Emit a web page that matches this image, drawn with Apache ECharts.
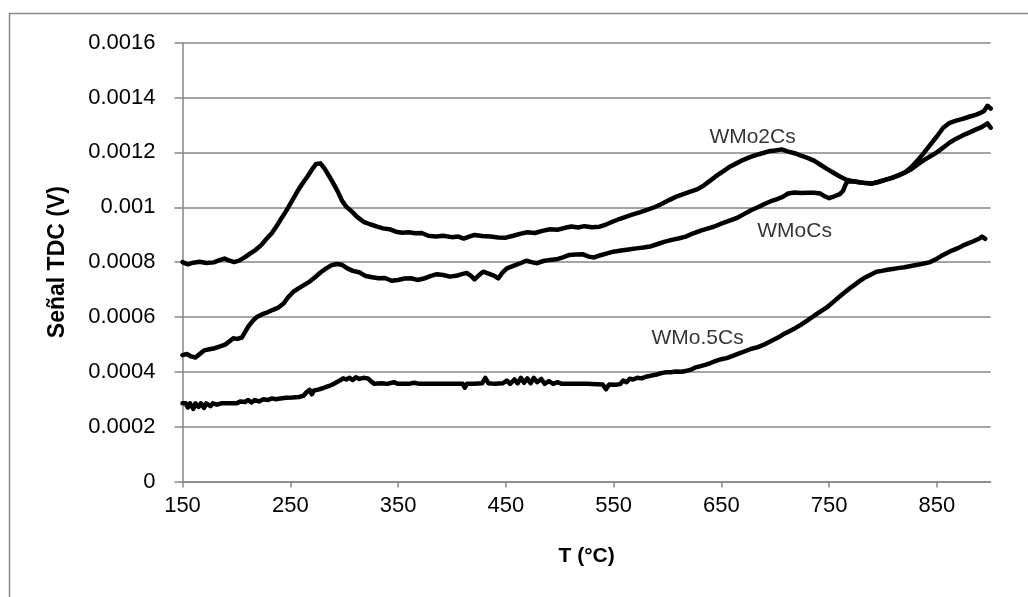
<!DOCTYPE html>
<html>
<head>
<meta charset="utf-8">
<script src="https://cdn.jsdelivr.net/npm/echarts@6/dist/echarts.min.js"></script>
<style>html,body{margin:0;padding:0;background:#fff;}#c{width:1028px;height:597px;}</style>
</head>
<body>
<div id="c"></div>
<script>
const xTicks = [150, 250, 350, 450, 550, 650, 750, 850];
const yTicks = [0, 0.0002, 0.0004, 0.0006, 0.0008, 0.001, 0.0012, 0.0014, 0.0016];
const xTitle = 'T (°C)';
const yTitle = 'Señal TDC (V)';

const wmo2cs = [[150,0.000800],[155,0.000792],[160,0.000798],[166,0.000801],[172,0.000797],[179,0.000799],[185,0.000808],[189,0.000813],[193,0.000806],[198,0.000800],[203,0.000806],[208,0.000818],[213,0.000832],[218,0.000845],[223,0.000862],[228,0.000885],[233,0.000906],[238,0.000935],[242,0.000961],[246,0.000985],[250,0.001012],[254,0.001040],[258,0.001067],[262,0.001090],[266,0.001112],[270,0.001137],[274,0.001158],[278,0.001160],[282,0.001140],[286,0.001114],[290,0.001087],[294,0.001058],[298,0.001024],[302,0.001002],[307,0.000985],[312,0.000965],[318,0.000947],[324,0.000938],[330,0.000930],[336,0.000923],[342,0.000920],[348,0.000911],[354,0.000907],[360,0.000909],[366,0.000905],[372,0.000906],[378,0.000896],[385,0.000893],[392,0.000896],[400,0.000891],[406,0.000893],[411,0.000886],[416,0.000893],[421,0.000899],[428,0.000895],[436,0.000893],[443,0.000890],[450,0.000889],[457,0.000896],[463,0.000903],[470,0.000909],[477,0.000906],[484,0.000914],[491,0.000920],[498,0.000918],[505,0.000925],[511,0.000930],[517,0.000926],[523,0.000931],[530,0.000927],[537,0.000929],[543,0.000937],[549,0.000947],[556,0.000958],[562,0.000966],[568,0.000974],[575,0.000982],[581,0.000990],[588,0.001000],[595,0.001013],[602,0.001027],[609,0.001040],[616,0.001050],[622,0.001058],[628,0.001066],[634,0.001080],[640,0.001098],[646,0.001116],[652,0.001132],[658,0.001148],[664,0.001160],[670,0.001172],[676,0.001182],[682,0.001190],[688,0.001197],[694,0.001204],[700,0.001207],[706,0.001211],[712,0.001203],[718,0.001197],[724,0.001188],[730,0.001180],[736,0.001170],[742,0.001155],[748,0.001140],[754,0.001126],[760,0.001112],[766,0.001100],[772,0.001095],[778,0.001091],[784,0.001088],[790,0.001086],[796,0.001092],[802,0.001100],[808,0.001106],[814,0.001115],[820,0.001126],[826,0.001145],[832,0.001170],[838,0.001198],[844,0.001228],[850,0.001258],[856,0.001290],[862,0.001308],[868,0.001316],[874,0.001322],[880,0.001330],[886,0.001337],[890,0.001343],[894,0.001352],[897,0.001370],[900,0.001360]];

const wmocs = [[150,0.000461],[154,0.000465],[158,0.000456],[162,0.000452],[166,0.000465],[170,0.000478],[175,0.000482],[180,0.000486],[185,0.000493],[190,0.000500],[194,0.000512],[197,0.000522],[201,0.000520],[205,0.000525],[208,0.000545],[211,0.000565],[215,0.000585],[219,0.000600],[224,0.000610],[229,0.000617],[234,0.000626],[239,0.000634],[244,0.000650],[248,0.000672],[253,0.000692],[258,0.000705],[263,0.000717],[268,0.000729],[273,0.000745],[278,0.000762],[283,0.000776],[288,0.000788],[293,0.000793],[298,0.000790],[303,0.000777],[308,0.000768],[314,0.000763],[320,0.000749],[326,0.000745],[332,0.000741],[338,0.000742],[344,0.000732],[350,0.000735],[356,0.000740],[362,0.000741],[368,0.000735],[374,0.000740],[380,0.000749],[386,0.000756],[392,0.000753],[398,0.000747],[404,0.000750],[410,0.000757],[414,0.000760],[418,0.000749],[421,0.000737],[425,0.000752],[429,0.000765],[434,0.000758],[439,0.000751],[443,0.000741],[447,0.000762],[451,0.000777],[457,0.000786],[463,0.000795],[469,0.000805],[474,0.000800],[479,0.000796],[485,0.000804],[491,0.000808],[497,0.000810],[503,0.000817],[509,0.000826],[515,0.000828],[521,0.000829],[527,0.000820],[532,0.000817],[538,0.000825],[544,0.000832],[550,0.000838],[557,0.000842],[564,0.000846],[571,0.000850],[578,0.000853],[585,0.000858],[591,0.000866],[597,0.000874],[603,0.000880],[610,0.000886],[617,0.000893],[624,0.000905],[631,0.000915],[637,0.000922],[643,0.000929],[650,0.000940],[657,0.000950],[664,0.000960],[671,0.000975],[678,0.000990],[684,0.001000],[690,0.001012],[696,0.001022],[702,0.001030],[707,0.001038],[712,0.001050],[718,0.001054],[724,0.001052],[730,0.001053],[736,0.001053],[742,0.001050],[746,0.001040],[750,0.001033],[755,0.001040],[760,0.001048],[763,0.001060],[765,0.001080],[767,0.001094],[772,0.001095],[778,0.001091],[784,0.001088],[790,0.001087],[796,0.001093],[802,0.001100],[808,0.001107],[814,0.001116],[820,0.001126],[826,0.001138],[832,0.001155],[838,0.001172],[844,0.001186],[850,0.001200],[856,0.001218],[862,0.001236],[868,0.001250],[874,0.001262],[880,0.001272],[886,0.001283],[892,0.001293],[897,0.001306],[900,0.001290]];

const wmo05cs = [[150,0.000285],[153,0.000285],[155,0.000270],[157,0.000285],[160,0.000265],[162,0.000285],[165,0.000272],[167,0.000285],[170,0.000268],[172,0.000285],[176,0.000275],[178,0.000285],[182,0.000280],[186,0.000285],[191,0.000285],[196,0.000285],[200,0.000285],[204,0.000292],[208,0.000290],[211,0.000297],[214,0.000288],[217,0.000297],[221,0.000292],[225,0.000300],[229,0.000297],[233,0.000303],[237,0.000300],[241,0.000303],[246,0.000305],[252,0.000306],[258,0.000308],[262,0.000312],[265,0.000325],[268,0.000334],[270,0.000318],[272,0.000332],[276,0.000335],[280,0.000340],[284,0.000346],[287,0.000350],[290,0.000355],[293,0.000362],[296,0.000368],[299,0.000376],[302,0.000372],[305,0.000378],[308,0.000370],[311,0.000380],[314,0.000374],[318,0.000378],[322,0.000376],[325,0.000365],[328,0.000356],[335,0.000358],[340,0.000356],[346,0.000362],[350,0.000356],[360,0.000356],[365,0.000360],[370,0.000356],[380,0.000356],[390,0.000356],[400,0.000356],[410,0.000356],[412,0.000342],[414,0.000356],[420,0.000356],[428,0.000358],[431,0.000378],[434,0.000358],[440,0.000356],[447,0.000358],[451,0.000368],[454,0.000356],[458,0.000372],[461,0.000358],[464,0.000378],[467,0.000360],[470,0.000376],[473,0.000358],[476,0.000378],[479,0.000362],[483,0.000374],[486,0.000356],[490,0.000366],[494,0.000356],[498,0.000362],[502,0.000356],[508,0.000356],[515,0.000356],[525,0.000356],[535,0.000355],[540,0.000354],[543,0.000336],[546,0.000354],[552,0.000353],[556,0.000355],[559,0.000368],[562,0.000362],[565,0.000375],[568,0.000372],[572,0.000378],[576,0.000376],[580,0.000382],[585,0.000386],[590,0.000390],[594,0.000395],[598,0.000398],[603,0.000398],[608,0.000401],[613,0.000400],[618,0.000404],[622,0.000408],[626,0.000416],[630,0.000420],[635,0.000425],[640,0.000432],[645,0.000440],[650,0.000446],[655,0.000450],[660,0.000457],[666,0.000466],[672,0.000475],[678,0.000484],[684,0.000490],[689,0.000498],[694,0.000508],[699,0.000518],[704,0.000528],[709,0.000540],[714,0.000550],[719,0.000560],[724,0.000572],[729,0.000585],[734,0.000598],[739,0.000612],[744,0.000625],[749,0.000638],[754,0.000655],[759,0.000672],[764,0.000688],[769,0.000704],[774,0.000718],[779,0.000733],[784,0.000745],[789,0.000755],[794,0.000765],[799,0.000768],[804,0.000772],[809,0.000775],[814,0.000778],[820,0.000781],[826,0.000786],[832,0.000790],[838,0.000795],[844,0.000800],[849,0.000810],[854,0.000822],[859,0.000832],[864,0.000842],[869,0.000850],[874,0.000860],[879,0.000868],[884,0.000876],[890,0.000887],[892,0.000893],[895,0.000885]];

const annoNames = ['WMo2Cs', 'WMoCs', 'WMo.5Cs'];
const annoT = [679, 718, 628];
const annoV = [0.001256, 0.000911, 0.000522];

const FONT = "'Liberation Sans', Arial, sans-serif";
const chart = echarts.init(document.getElementById('c'), null, {renderer: 'canvas'});

function lineSeries(name, data) {
  return {
    name: name, type: 'line', data: data, showSymbol: false, symbol: 'none',
    lineStyle: {color: '#000', width: 4.5, join: 'round', cap: 'round'},
    silent: true, animation: false
  };
}

chart.setOption({
  animation: false,
  backgroundColor: '#fff',
  grid: {left: 182.5, top: 42.7, right: 37.3, bottom: 115.5, containLabel: false},
  graphic: [{
    type: 'rect', silent: true, z: -10,
    shape: {x: 9.5, y: 13.5, width: 1040, height: 620},
    style: {fill: 'none', stroke: '#8a8a8a', lineWidth: 1.5}
  }],
  xAxis: {
    type: 'value', min: 150, max: 900, interval: 100,
    name: xTitle, nameLocation: 'middle', nameGap: 64,
    nameTextStyle: {fontFamily: FONT, fontWeight: 'bold', fontSize: 21, color: '#000'},
    axisLine: {show: true, lineStyle: {color: '#868686', width: 1.5}},
    axisTick: {show: true, length: 6, customValues: xTicks, lineStyle: {color: '#868686', width: 1.5}},
    axisLabel: {customValues: xTicks, fontFamily: FONT, fontSize: 22, color: '#000', margin: 13},
    splitLine: {show: false}
  },
  yAxis: {
    type: 'value', min: 0, max: 0.0016, interval: 0.0002,
    name: yTitle, nameLocation: 'middle', nameGap: 113, nameRotate: 90,
    nameTextStyle: {fontFamily: FONT, fontWeight: 'bold', fontSize: 23, color: '#000'},
    axisLine: {show: true, lineStyle: {color: '#868686', width: 1.5}},
    axisTick: {show: true, length: 8, lineStyle: {color: '#868686', width: 1.5}},
    axisLabel: {fontFamily: FONT, fontSize: 22, color: '#000', margin: 27,
      formatter: function (v) { return String(+v.toFixed(6)); }},
    splitLine: {show: true, lineStyle: {color: '#868686', width: 1.5}}
  },
  series: [
    lineSeries('WMo2Cs', wmo2cs),
    lineSeries('WMoCs', wmocs),
    lineSeries('WMo.5Cs', wmo05cs),
    {
      type: 'scatter', symbolSize: 0, silent: true, animation: false,
      data: annoNames.map(function (n, i) { return {name: n, value: [annoT[i], annoV[i]]}; }),
      label: {show: true, position: 'inside', formatter: '{b}', fontFamily: FONT, fontSize: 21, color: '#000'}
    }
  ]
});
</script>
</body>
</html>
